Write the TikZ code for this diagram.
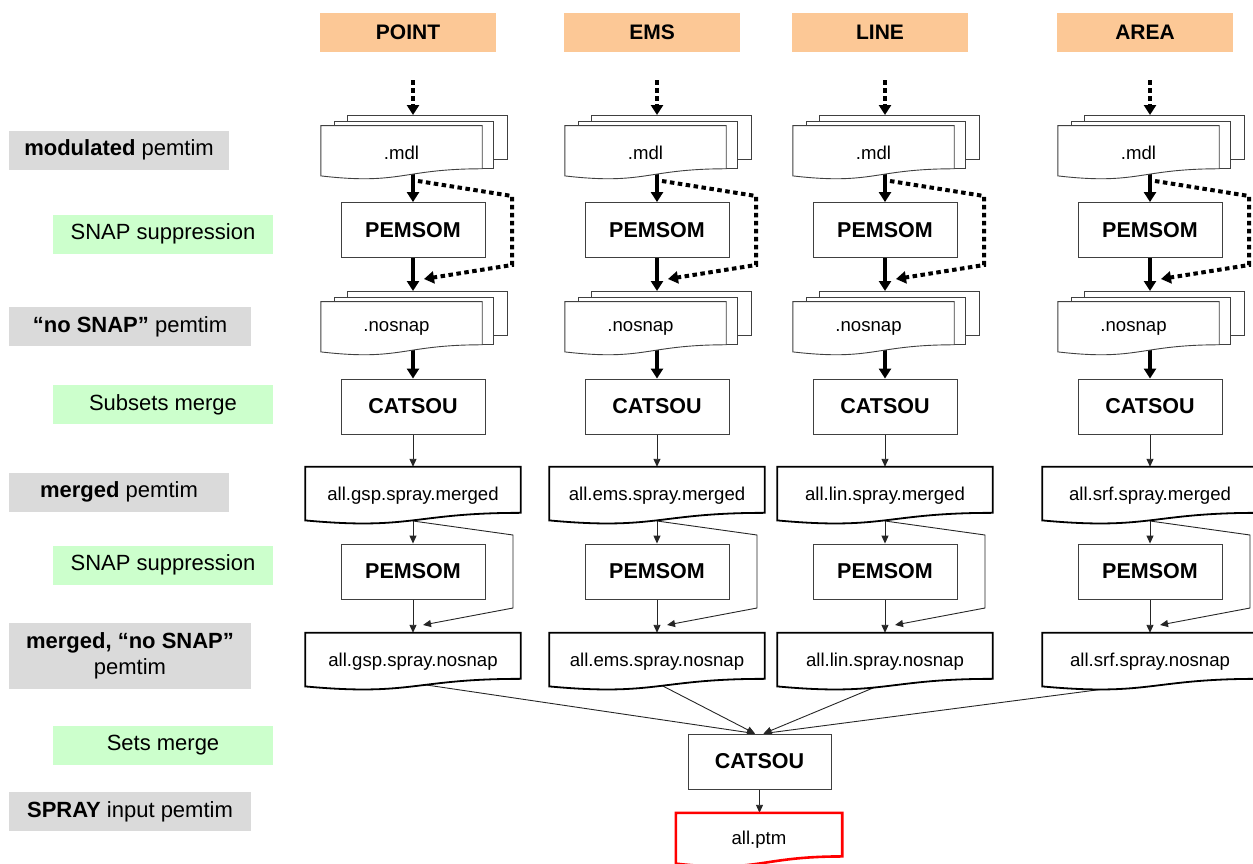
\documentclass[tikz,border=0pt]{standalone}
\usepackage{fontspec}
\setmainfont{Liberation Sans}
\usetikzlibrary{calc,arrows.meta}

\definecolor{hdrorange}{RGB}{252,200,150}
\definecolor{lblgray}{RGB}{218,218,218}
\definecolor{lblgreen}{RGB}{204,255,204}
\definecolor{edgegray}{RGB}{64,64,64}
\definecolor{ptmred}{RGB}{255,0,0}

\pgfdeclarelayer{bg}
\pgfdeclarelayer{docs}
\pgfsetlayers{bg,docs,main}

\tikzset{
  hdrbox/.style={fill=hdrorange, minimum width=176pt, minimum height=39pt,
    inner sep=0pt, font=\fontsize{21}{24}\selectfont\bfseries},
  graylbl/.style={fill=lblgray, minimum height=39pt, inner sep=0pt,
    align=center, font=\fontsize{22}{26}\selectfont},
  greenlbl/.style={fill=lblgreen, minimum width=220pt, minimum height=39pt,
    inner sep=0pt, font=\fontsize{22}{26}\selectfont},
  procbox/.style={draw=edgegray, line width=0.9pt, fill=white,
    minimum width=144pt, minimum height=55pt, inner sep=0pt,
    font=\fontsize{21.5}{24}\selectfont\bfseries},
  docnode/.style={inner sep=0pt, font=\fontsize{18.6}{21}\selectfont},
  stackline/.style={draw=edgegray, line width=0.9pt, fill=white},
  bigdoc/.style={draw=black, line width=1.8pt, fill=white},
  ptmline/.style={draw=ptmred, line width=2.6pt, fill=white},
  thickarrow/.style={line width=4pt, -{Triangle[length=10pt,width=12pt]}},
  dotarrow/.style={line width=4pt, dash pattern=on 4.5pt off 3.5pt,
    -{Triangle[length=10pt,width=12pt]}},
  thinarrow/.style={draw=black!85, line width=0.9pt,
    -{Triangle[length=8pt,width=7pt]}},
}

% document outline (flat top, wavy bottom) around a node
\newcommand\docoutline[2][]{%
  \path[#1] (#2.north west) -- (#2.north east)
    -- ($(#2.north east)!0.802!(#2.south east)$)
    .. controls ($(#2.north)!0.802!(#2.south)$) and ($(#2.north)!1.107!(#2.south)$)
    .. ($(#2.north west)!0.934!(#2.south west)$) -- cycle;}

% three stacked documents; #2 = flow x, #3 = top of the front sheet,
% #4 = horizontal shift of the label
\newcommand\multidoc[5]{%
  \begin{pgfonlayer}{docs}
    \path[stackline] ({#2-66},{#3-12}) rectangle ({#2+94},{#3+32});
    \path[stackline] ({#2-79},{#3-6}) rectangle ({#2+80},{#3+41});
  \end{pgfonlayer}
  \node[docnode, minimum width=161pt, minimum height=53.5pt] (#1) at ({#2-11.5},{#3+25.5}) {\hspace*{#4}#5};
  \begin{pgfonlayer}{docs}
    \docoutline[stackline]{#1}
  \end{pgfonlayer}
  \coordinate (#1-top) at ({#2},{#3-12});}

% single document with heavy outline
\newcommand\singledoc[4]{%
  \node[docnode, minimum width=215pt, minimum height=57pt] (#1) at ({#2},{#3+28.5}) {#4};
  \begin{pgfonlayer}{docs}
    \docoutline[bigdoc]{#1}
  \end{pgfonlayer}}

\begin{document}
\begin{tikzpicture}[x=1pt, y=-1pt]
\useasboundingbox (0,0) rectangle (1253,863);

% stage labels on the left
\node[graylbl, minimum width=220pt] (lbmod) at (119,150) {\textbf{modulated} pemtim};
\node[greenlbl] (lbsnapa) at (163,234) {SNAP suppression};
\node[graylbl, minimum width=242pt] (lbnosnap) at (130,326.5) {\textbf{“no SNAP”} pemtim};
\node[greenlbl] (lbsub) at (163,404.5) {Subsets merge};
\node[graylbl, minimum width=220pt] (lbmerged) at (119,492) {\textbf{merged} pemtim};
\node[greenlbl] (lbsnapb) at (163,565) {SNAP suppression};
\node[graylbl, minimum width=242pt, minimum height=66pt] (lbmns) at (130,655.5) {\textbf{merged, “no SNAP”}\\pemtim};
\node[greenlbl] (lbsets) at (163,745) {Sets merge};
\node[graylbl, minimum width=242pt] (lbspray) at (130,811.5) {\textbf{SPRAY} input pemtim};

% one processing column per source type
\foreach \i/\f/\hd/\ab in {1/413/POINT/gsp, 2/657/EMS/ems, 3/885/LINE/lin, 4/1150/AREA/srf}{
  \node[hdrbox] (hd\i) at ({\f-5},32) {\hd};
  \multidoc{mdl\i}{\f}{127}{0pt}{.mdl}
  \node[procbox] (pa\i) at (\f,230) {PEMSOM};
  \multidoc{nsn\i}{\f}{303}{-10pt}{.nosnap}
  \node[procbox] (ca\i) at (\f,406.5) {CATSOU};
  \singledoc{mg\i}{\f}{467}{all.\ab.spray.merged}
  \node[procbox] (pb\i) at (\f,571.5) {PEMSOM};
  \singledoc{ns\i}{\f}{633}{all.\ab.spray.nosnap}
  % bends of the bypass paths
  \coordinate (src\i) at (\f,80);
  \coordinate (bpa\i) at ({\f+5},181);
  \coordinate (bpb\i) at ({\f+99},196);
  \coordinate (bpc\i) at ({\f+99},265);
  \coordinate (bpd\i) at ({\f+11},279);
  \coordinate (sda\i) at (\f,521);
  \coordinate (sdb\i) at ({\f+100},535);
  \coordinate (sdc\i) at ({\f+100},608);
  \coordinate (sdd\i) at ({\f+10},625);
  \coordinate (out\i) at (\f,683);
  \begin{pgfonlayer}{bg}
    \draw[dotarrow] (src\i) -- (mdl\i-top);
    \draw[thickarrow] (mdl\i.center -| pa\i.north) -- (pa\i.north);
    \draw[dotarrow] (bpa\i) -- (bpb\i) -- (bpc\i) -- (bpd\i);
    \draw[thickarrow] (pa\i.south) -- (pa\i.south |- nsn\i-top);
    \draw[thickarrow] (nsn\i.center -| ca\i.north) -- (ca\i.north);
    \draw[thinarrow] (ca\i.south) -- (ca\i.south |- mg\i.north);
    \draw[thinarrow] (mg\i.center -| pb\i.north) -- (pb\i.north);
    \draw[thinarrow] (sda\i) -- (sdb\i) -- (sdc\i) -- (sdd\i);
    \draw[thinarrow] (pb\i.south) -- (pb\i.south |- ns\i.north);
  \end{pgfonlayer}
}

% final merge of all sets
\node[procbox, minimum width=143pt] (catall) at (759.5,761.5) {CATSOU};
\node[docnode, minimum width=166pt, minimum height=54pt] (ptm) at (759,840) {all.ptm};
\begin{pgfonlayer}{docs}
  \docoutline[ptmline]{ptm}
\end{pgfonlayer}
\coordinate (cinl) at ([xshift=-4.5pt]catall.north);
\coordinate (cinr) at ([xshift=4pt]catall.north);
\begin{pgfonlayer}{bg}
  \draw[thinarrow] (out1) -- (cinl);
  \draw[thinarrow] (out2) -- (cinl);
  \draw[thinarrow] (out3) -- (cinr);
  \draw[thinarrow] (out4) -- (cinr);
  \draw[thinarrow] (catall.south) -- (catall.south |- ptm.north);
\end{pgfonlayer}
\end{tikzpicture}
\end{document}
